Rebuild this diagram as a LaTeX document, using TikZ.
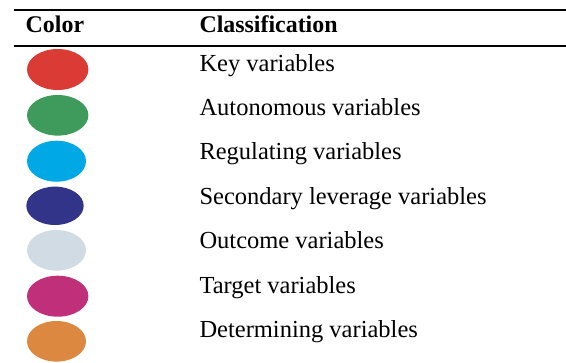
\documentclass[tikz,border=0pt]{standalone}
\usepackage{fontspec}
\setmainfont{Liberation Serif}
\usetikzlibrary{shapes.geometric}

\definecolor{ckey}{HTML}{DB3B35}
\definecolor{cauto}{HTML}{3E9B5C}
\definecolor{creg}{HTML}{00A9E6}
\definecolor{csec}{HTML}{313489}
\definecolor{cout}{HTML}{D0DBE3}
\definecolor{ctarget}{HTML}{C0307A}
\definecolor{cdet}{HTML}{DD8840}

\tikzset{
  rulestyle/.style={line width=1.3bp, black},
  headtext/.style={anchor=base west, inner sep=0pt, font=\fontsize{23.9bp}{26bp}\selectfont\bfseries},
  bodytext/.style={anchor=base west, inner sep=0pt, font=\fontsize{24.5bp}{28bp}\selectfont},
  swatch/.style={ellipse, draw=none, inner sep=0pt, fill=#1}
}

\begin{document}
\begin{tikzpicture}[x=1bp, y=-1bp]
  \useasboundingbox (0,0) rectangle (566,362);

  % table rules
  \coordinate (topL) at (14,10);
  \coordinate (topR) at (566,10);
  \coordinate (midL) at (14,46);
  \coordinate (midR) at (566,46);
  \draw[rulestyle] (topL) -- (topR);
  \draw[rulestyle] (midL) -- (midR);

  % header
  \node[headtext] (hcolor) at (25.5,32.3) {Color};
  \node[headtext] (hclass) at (199.3,32.3) {Classification};

  % colour swatches
  \node[swatch=ckey,    minimum width=61.4bp, minimum height=41bp]   (s1) at (57.7,69.5)  {};
  \node[swatch=cauto,   minimum width=61.4bp, minimum height=40.6bp] (s2) at (57.7,115.3) {};
  \node[swatch=creg,    minimum width=59bp,   minimum height=41bp]   (s3) at (56.5,161.2) {};
  \node[swatch=csec,    minimum width=57.4bp, minimum height=38.4bp] (s4) at (55,205.8)   {};
  \node[swatch=cout,    minimum width=59bp,   minimum height=40.6bp] (s5) at (56.5,250.3) {};
  \node[swatch=ctarget, minimum width=61.4bp, minimum height=41bp]   (s6) at (57.7,296.2) {};
  \node[swatch=cdet,    minimum width=59bp,   minimum height=40.6bp] (s7) at (56.5,341.3) {};

  % classification labels
  \node[bodytext] (t1) at (199.3,71)    {Key variables};
  \node[bodytext] (t2) at (199.3,115.4) {Autonomous variables};
  \node[bodytext] (t3) at (199.3,159.8) {Regulating variables};
  \node[bodytext] (t4) at (199.3,204.2) {Secondary leverage variables};
  \node[bodytext] (t5) at (199.3,248.6) {Outcome variables};
  \node[bodytext] (t6) at (199.3,293)   {Target variables};
  \node[bodytext] (t7) at (199.3,337.4) {Determining variables};
\end{tikzpicture}
\end{document}
